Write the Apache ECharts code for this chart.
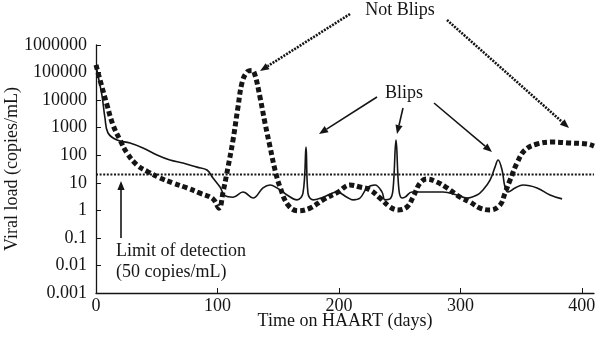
<!DOCTYPE html>
<html>
<head>
<meta charset="utf-8">
<title>Viral load on HAART</title>
<script src="https://cdn.jsdelivr.net/npm/echarts@6/dist/echarts.min.js"></script>
<style>
  html, body { margin: 0; padding: 0; background: #fff; }
  #chart { width: 600px; height: 351px; }
</style>
</head>
<body>
<div id="chart"></div>
<script>
// patient with blips (solid line): days on HAART, copies/mL
const blipDays = [0, 1.6, 4.9, 7.4, 9.9, 17.3, 28, 38.7, 50.2, 60.9, 71.6, 83.2, 91.4, 96.3, 102.1, 106.2,
  112.8, 121, 129.3, 137.5, 143.3, 149, 157.3, 165.5, 170.4, 172.9, 174.5, 178.7, 186.9, 198.4, 206.6,
  211.6, 217.4, 223.1, 229.7, 235.5, 237.9, 242.1, 244.5, 247, 249.4, 252, 254.4, 260.2, 275, 285.7,
  297.2, 305.4, 313.7, 318.6, 324.4, 328.5, 331, 334.3, 336.7, 339.2, 345, 351.6, 363.1, 373.8, 383.7];
const blipLoad = [180000, 80000, 15000, 2200, 640, 355, 277, 183, 102, 67, 52, 37, 29, 15, 7, 3.4,
  3, 4.6, 2.8, 6.5, 8.3, 6.5, 3.6, 2.4, 4.2, 199, 4.2, 2.4, 3, 4.6, 3,
  2.4, 2.8, 6.5, 8.3, 4.6, 2.4, 2.6, 5.5, 355, 5.5, 2.8, 3, 4.6, 4.6, 4.6,
  3.6, 2.8, 3.6, 5.5, 12.6, 37, 67, 29, 7, 4.6, 6.5, 8.3, 6.5, 3.6, 2.6];

// patient with rebounds that are not blips (thick dotted line)
const reboundDays = [0, 3.3, 9.1, 14, 19.8, 25.5, 33.8, 42.8, 52.7, 63.4, 74.9, 85.6, 96.3, 101.3, 104.6,
  108.7, 112.8, 116.9, 120.2, 124.3, 128.4, 130.9, 135, 139.1, 143.3, 147.4, 151.5, 158.1, 166.3, 176.2,
  186.9, 199.2, 209.1, 217.4, 225.6, 233.8, 242.1, 248.6, 256, 261, 266.8, 272.5, 280.7, 289, 299.7,
  307.9, 316.2, 324.4, 332.6, 336.7, 340.9, 346.6, 353.2, 363.1, 376.3, 390.3, 404.2, 410];
const reboundLoad = [190000, 54000, 6600, 1250, 355, 120, 44, 25, 15, 9.8, 6.5, 4.2, 2.6, 1.2, 4.6,
  37, 355, 5600, 42000, 105000, 120000, 81000, 13000, 1500, 199, 29, 7, 1.55, 0.96, 1.2,
  2.4, 4.6, 8.3, 7, 5.5, 2.8, 1.32, 1.03, 1.32, 3, 9.8, 13.7, 10.6, 6.5, 3,
  2, 1.2, 1.03, 1.55, 4.2, 12.6, 52, 155, 255, 300, 277, 255, 215];

// limit of detection line
const limitDays = [0, 410];
const limitLoad = [20, 20];

const yTickLabels = ['0.001', '0.01', '0.1', '1', '10', '100', '1000', '10000', '100000', '1000000'];

const font = '"Liberation Serif", "DejaVu Serif", serif';
const ink = '#151515';

function pairs(xs, ys) {
  return xs.map((x, i) => [x, ys[i]]);
}

// annotation arrow: shaft plus filled head
function arrow(x1, y1, x2, y2, dotted) {
  const a = Math.atan2(y2 - y1, x2 - x1);
  const len = 9, w = 3.6;
  const bx = x2 - len * Math.cos(a), by = y2 - len * Math.sin(a);
  const nx = -Math.sin(a) * w, ny = Math.cos(a) * w;
  return [
    {
      type: 'line', silent: true,
      shape: { x1: x1, y1: y1, x2: bx, y2: by },
      style: { stroke: ink, lineWidth: dotted ? 2.6 : 1.6, lineDash: dotted ? [2, 1.2] : null }
    },
    {
      type: 'polygon', silent: true,
      shape: { points: [[x2, y2], [bx + nx, by + ny], [bx - nx, by - ny]] },
      style: { fill: ink }
    }
  ];
}

function label(text, x, y, align) {
  return {
    type: 'text', silent: true,
    style: { text: text, x: x, y: y, fill: ink, font: '18px ' + font,
      textAlign: align || 'center', textVerticalAlign: 'middle' }
  };
}

const chart = echarts.init(document.getElementById('chart'));

let option = {
  animation: false,
  grid: { left: 96, right: 6, top: 45, bottom: 58, outerBoundsMode: 'none', containLabel: false },
  xAxis: {
    type: 'value',
    min: 0,
    max: 410,
    interval: 100,
    name: 'Time on HAART (days)',
    nameLocation: 'middle',
    nameGap: 19,
    nameMoveOverlap: false,
    nameTextStyle: { fontFamily: font, fontSize: 18, color: ink },
    axisLine: { lineStyle: { color: ink, width: 1.3 } },
    axisTick: { inside: true, length: 5, lineStyle: { color: ink } },
    axisLabel: { margin: 4, fontFamily: font, fontSize: 18, color: ink, showMaxLabel: false },
    splitLine: { show: false }
  },
  yAxis: {
    type: 'log',
    logBase: 10,
    min: 0.001,
    max: 1000000,
    name: 'Viral load (copies/mL)',
    nameLocation: 'middle',
    nameGap: 75,
    nameMoveOverlap: false,
    nameTextStyle: { fontFamily: font, fontSize: 18, color: ink },
    axisLine: { show: true, lineStyle: { color: ink, width: 1.3 } },
    axisTick: { show: true, inside: true, length: 5, lineStyle: { color: ink } },
    axisLabel: {
      margin: 9, fontFamily: font, fontSize: 18, color: ink,
      formatter: function (v) {
        return yTickLabels[Math.round(Math.log10(v)) + 3];
      }
    },
    splitLine: { show: false }
  },
  series: [
    {
      name: 'Limit of detection',
      type: 'line',
      data: pairs(limitDays, limitLoad),
      symbol: 'none',
      lineStyle: { color: ink, width: 2, type: [2, 1.6] }
    },
    {
      name: 'Not blips',
      type: 'line',
      data: pairs(reboundDays, reboundLoad),
      symbol: 'none',
      smooth: 0.4,
      lineStyle: { color: ink, width: 5, type: [5, 3], cap: 'butt' }
    },
    {
      name: 'Blips',
      type: 'line',
      data: pairs(blipDays, blipLoad),
      symbol: 'none',
      smooth: 0.4,
      lineStyle: { color: ink, width: 1.6 }
    }
  ],
  graphic: [
    label('Not Blips', 400, 10),
    ...arrow(350, 14, 260, 71, true),
    ...arrow(447, 20, 569, 128, true),
    label('Blips', 404, 93),
    ...arrow(377, 97, 319, 134, false),
    ...arrow(403, 108, 397, 134, false),
    ...arrow(434, 103, 492, 152, false),
    ...arrow(121, 238, 121, 181, false),
    label('Limit of detection', 116, 251, 'left'),
    label('(50 copies/mL)', 116, 272, 'left')
  ]
};

chart.setOption(option);
</script>
</body>
</html>
